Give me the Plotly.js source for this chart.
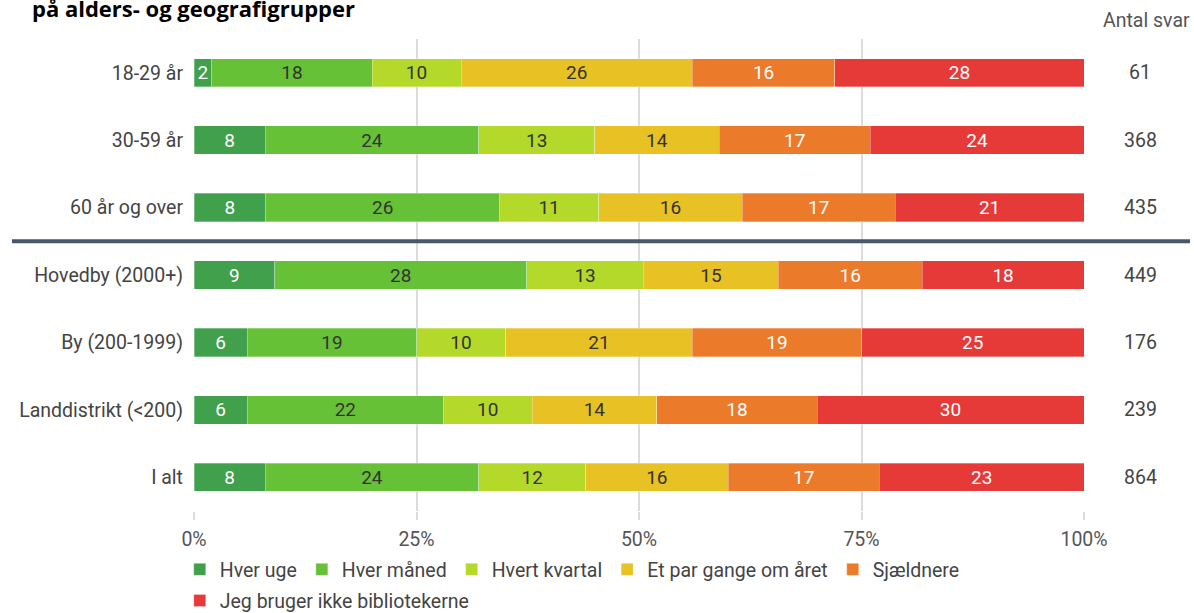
<!DOCTYPE html>
<html>
<head>
<meta charset="utf-8">
<script src="https://cdn.plot.ly/plotly-3.0.1.min.js"></script>
<style>
  html, body { margin: 0; padding: 0; background: #fff; }
  #chart { width: 1194px; height: 613px; }
</style>
</head>
<body>
<div id="chart"></div>
<script>
var groups = ['18-29 år', '30-59 år', '60 år og over', 'Hovedby (2000+)', 'By (200-1999)', 'Landdistrikt (<200)', 'I alt'];
var antalSvar = [61, 368, 435, 449, 176, 239, 864];

var seriesNames = ['Hver uge', 'Hver måned', 'Hvert kvartal', 'Et par gange om året', 'Sjældnere', 'Jeg bruger ikke bibliotekerne'];
var hverUge      = [2, 8, 8, 9, 6, 6, 8];
var hverMaaned   = [18, 24, 26, 28, 19, 22, 24];
var hvertKvartal = [10, 13, 11, 13, 10, 10, 12];
var parGange     = [26, 14, 16, 15, 21, 14, 16];
var sjaeldnere   = [16, 17, 17, 16, 19, 18, 17];
var brugerIkke   = [28, 24, 21, 18, 25, 30, 23];

var xTicks = [0, 25, 50, 75, 100];
var xTickText = ['0%', '25%', '50%', '75%', '100%'];

var colors = ['#41a04b', '#67c137', '#b4d92a', '#e8c124', '#ec7a2b', '#e53a38'];
var textColors = ['#ffffff', '#333333', '#333333', '#333333', '#ffffff', '#ffffff'];
var allValues = [hverUge, hverMaaned, hvertKvartal, parGange, sjaeldnere, brugerIkke];

var FS = 19.5;

var data = [];
for (var i = 0; i < allValues.length; i++) {
  data.push({
    type: 'bar',
    orientation: 'h',
    name: seriesNames[i],
    // last entry wraps to its own legend row, like the original
    legend: i < 5 ? 'legend' : 'legend2',
    y: groups,
    x: allValues[i],
    text: allValues[i].map(String),
    texttemplate: '%{text}',
    textposition: 'inside',
    insidetextanchor: 'middle',
    textangle: 0,
    constraintext: 'none',
    textfont: { family: 'Roboto', size: 19, color: textColors[i] },
    marker: { color: colors[i], line: { width: 0.5, color: 'rgba(255,255,255,0.6)' } },
    hoverinfo: 'name+x'
  });
}

var annotations = [{
  text: '<b>på alders- og geografigrupper</b>',
  xref: 'paper', yref: 'paper',
  x: -0.184, y: 1.066, xanchor: 'left', yanchor: 'middle',
  showarrow: false,
  font: { family: 'Open Sans', size: 22, color: '#000' }
}, {
  text: 'Antal svar',
  xref: 'paper', yref: 'paper',
  x: 1.07, y: 1.04, xanchor: 'center', yanchor: 'middle',
  showarrow: false,
  font: { family: 'Roboto', size: FS, color: '#555' }
}];
for (var j = 0; j < groups.length; j++) {
  annotations.push({
    text: String(antalSvar[j]),
    xref: 'paper', yref: 'y',
    x: 1.063, y: groups[j], xanchor: 'center', yanchor: 'middle',
    showarrow: false,
    font: { family: 'Roboto', size: FS, color: '#444' }
  });
}

var legendBase = {
  orientation: 'h',
  xanchor: 'left', yanchor: 'top',
  font: { family: 'Roboto', size: FS, color: '#444' },
  traceorder: 'normal',
  itemwidth: 30,
  tracegroupgap: 0
};

var layout = {
  width: 1194,
  height: 613,
  margin: { l: 194, r: 110, t: 39, b: 102, autoexpand: false },
  paper_bgcolor: '#fff',
  plot_bgcolor: '#fff',
  font: { family: 'Roboto', size: FS, color: '#444' },
  barmode: 'stack',
  barnorm: 'percent',
  bargap: 0.58,
  showlegend: true,
  legend: Object.assign({}, legendBase, { x: -0.016, y: -0.083 }),
  legend2: Object.assign({}, legendBase, { x: -0.016, y: -0.149 }),
  xaxis: {
    range: [0, 100],
    tickvals: xTicks,
    ticktext: xTickText,
    showgrid: true,
    gridcolor: '#dcdcdc',
    gridwidth: 2,
    zeroline: false,
    ticks: 'outside',
    ticklen: 8,
    tickcolor: '#dcdcdc',
    tickwidth: 2,
    ticklabelstandoff: 3,
    tickfont: { family: 'Roboto', size: FS, color: '#555' },
    fixedrange: true
  },
  yaxis: {
    autorange: 'reversed',
    type: 'category',
    showgrid: false,
    zeroline: false,
    ticks: '',
    ticklabelstandoff: 10,
    tickfont: { family: 'Roboto', size: FS, color: '#444' },
    fixedrange: true
  },
  shapes: [{
    type: 'line',
    xref: 'paper', yref: 'y',
    x0: -0.2045, x1: 1.1191,
    y0: 2.5, y1: 2.5,
    line: { color: '#48566c', width: 4 }
  }],
  annotations: annotations
};

Plotly.newPlot('chart', data, layout, { displayModeBar: false, staticPlot: true });
</script>
</body>
</html>
